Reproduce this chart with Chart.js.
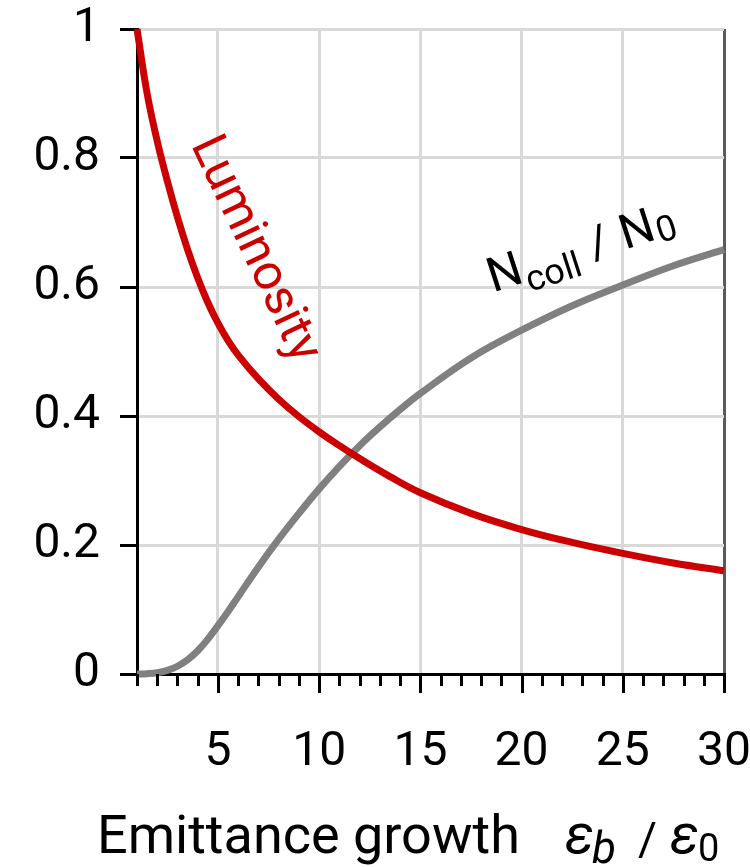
<!DOCTYPE html>
<html>
<head>
<meta charset="utf-8">
<script src="https://cdn.jsdelivr.net/npm/chart.js@4.4.1/dist/chart.umd.min.js"></script>
<style>
  html, body { margin: 0; padding: 0; background: #fff; }
  #wrap { width: 750px; height: 867px; }
</style>
</head>
<body>
<div id="wrap"><canvas id="chart" width="750" height="867"></canvas></div>
<script>
// values
const lumX = [1, 1.5, 2, 2.5, 3, 3.5, 4, 4.5, 5, 5.5, 6, 7, 8, 9, 10, 11, 12, 13.5, 15, 17.5, 20, 22.5, 25, 27.5, 30];
const lumY = [1.0, 0.900, 0.826, 0.764, 0.708, 0.658, 0.614, 0.576, 0.544, 0.517, 0.4945, 0.4575, 0.426, 0.399, 0.3755, 0.354, 0.334, 0.306, 0.281, 0.249, 0.224, 0.204, 0.187, 0.172, 0.160];

const nX = [1, 1.5, 2, 2.5, 3, 3.5, 4, 4.5, 5, 5.5, 6, 7, 8, 9, 10, 11, 12, 13, 14, 15, 17.5, 20, 22.5, 25, 27.5, 30];
const nY = [0, 0.0005, 0.002, 0.0055, 0.012, 0.022, 0.036, 0.054, 0.075, 0.097, 0.120, 0.166, 0.209, 0.249, 0.287, 0.322, 0.354, 0.383, 0.410, 0.435, 0.490, 0.533, 0.571, 0.603, 0.633, 0.658];

const xTickValues = [5, 10, 15, 20, 25, 30];
const yTickValues = [0, 0.2, 0.4, 0.6, 0.8, 1];

const RED = '#cc0000';
const GRAY = '#808080';
const GRID = '#d9d9d9';
const FONT = 'Roboto';

const toPoints = (xs, ys) => xs.map((x, i) => ({ x, y: ys[i] }));

// minor/major tick marks below the x axis
const xTickMarks = {
  id: 'xTickMarks',
  afterDraw(chart) {
    const { ctx, scales: { x }, chartArea } = chart;
    ctx.save();
    ctx.strokeStyle = '#000';
    ctx.lineWidth = 3;
    x.ticks.forEach(t => {
      const px = Math.round(x.getPixelForValue(t.value)) + 0.5;
      const len = xTickValues.includes(t.value) ? 19 : 12;
      ctx.beginPath();
      ctx.moveTo(px, chartArea.bottom);
      ctx.lineTo(px, chartArea.bottom + len);
      ctx.stroke();
    });
    ctx.restore();
  }
};

// curve labels and the x axis title (with sub-scripts)
const annotations = {
  id: 'annotations',
  afterDraw(chart) {
    const { ctx, scales: { x, y } } = chart;

    // "Luminosity" along the red curve
    ctx.save();
    ctx.translate(x.getPixelForValue(6.79), y.getPixelForValue(0.658));
    ctx.rotate(64.7 * Math.PI / 180);
    ctx.fillStyle = RED;
    ctx.font = `50px ${FONT}`;
    ctx.textAlign = 'center';
    ctx.textBaseline = 'middle';
    ctx.fillText('Luminosity', 0, 0);
    ctx.restore();

    // "Ncoll / N0" along the gray curve
    ctx.save();
    ctx.translate(x.getPixelForValue(18.73), y.getPixelForValue(0.593));
    ctx.rotate(-18 * Math.PI / 180);
    ctx.fillStyle = '#000';
    ctx.textBaseline = 'alphabetic';
    let cx = -3;
    ctx.font = `48px ${FONT}`;
    ctx.fillText('N', cx, 0); cx += ctx.measureText('N').width + 1;
    ctx.font = `36px ${FONT}`;
    ctx.fillText('coll', cx, 11); cx += ctx.measureText('coll').width + 14;
    ctx.font = `46px ${FONT}`;
    ctx.fillText('/', cx, 0); cx += ctx.measureText('/').width + 14;
    ctx.font = `48px ${FONT}`;
    ctx.fillText('N', cx, 0); cx += ctx.measureText('N').width + 1;
    ctx.font = `36px ${FONT}`;
    ctx.fillText('0', cx, 5);
    ctx.restore();

    // x axis title
    ctx.save();
    ctx.fillStyle = '#000';
    ctx.textBaseline = 'alphabetic';
    ctx.font = `54px ${FONT}`;
    ctx.fillText('Emittance growth', 97, 853);
    ctx.font = `italic 56px ${FONT}`;
    ctx.fillText('ε', 565, 853);
    ctx.font = `italic 44px ${FONT}`;
    ctx.fillText('b', 592, 863);
    ctx.font = `46px ${FONT}`;
    ctx.fillText('/', 638, 855);
    ctx.font = `italic 56px ${FONT}`;
    ctx.fillText('ε', 670, 853);
    ctx.font = `38px ${FONT}`;
    ctx.fillText('0', 698, 861);
    ctx.restore();
  }
};

new Chart(document.getElementById('chart'), {
  type: 'line',
  data: {
    datasets: [
      {
        label: 'Luminosity',
        data: toPoints(lumX, lumY),
        borderColor: RED,
        borderWidth: 7,
        pointRadius: 0,
        tension: 0.4,
        clip: false,
      },
      {
        label: 'Ncoll / N0',
        data: toPoints(nX, nY),
        borderColor: GRAY,
        borderWidth: 7,
        pointRadius: 0,
        tension: 0.4,
        clip: false,
      },
    ]
  },
  options: {
    responsive: false,
    animation: false,
    layout: { padding: { left: 0, right: 26, top: 29, bottom: 0 } },
    plugins: { legend: { display: false }, tooltip: { enabled: false } },
    scales: {
      x: {
        type: 'linear', min: 1, max: 30,
        afterFit: s => { s.height = 193; s.paddingLeft = 0; s.paddingRight = 0; },
        border: { color: '#000', width: 3 },
        grid: {
          drawTicks: false,
          lineWidth: 3,
          color: c => {
            const v = c.tick && c.tick.value;
            if (v === 30) return '#5a5a5a';
            return xTickValues.includes(v) ? GRID : 'rgba(0,0,0,0)';
          }
        },
        ticks: {
          stepSize: 1, autoSkip: false, maxRotation: 0, padding: 50,
          color: '#000', font: { family: FONT, size: 48 },
          callback: v => xTickValues.includes(v) ? String(v) : ''
        }
      },
      y: {
        min: 0, max: 1,
        afterFit: s => { s.width = 137; s.paddingTop = 0; s.paddingBottom = 0; },
        afterBuildTicks: s => { s.ticks = yTickValues.map(v => ({ value: v })); },
        border: { color: '#000', width: 3 },
        grid: {
          lineWidth: 3, tickLength: 17, tickWidth: 3, tickColor: '#000',
          color: c => (c.tick && c.tick.value === 0) ? 'rgba(0,0,0,0)' : GRID
        },
        ticks: {
          padding: 20, color: '#000', font: { family: FONT, size: 48 },
          callback: v => String(+v.toFixed(1))
        }
      }
    }
  },
  plugins: [xTickMarks, annotations]
});
</script>
</body>
</html>
